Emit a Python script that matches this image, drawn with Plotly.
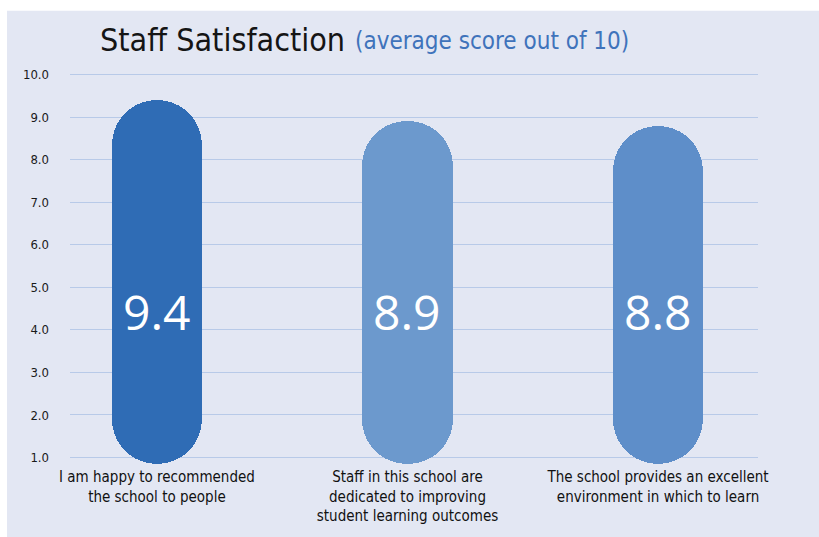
import plotly.graph_objects as go

categories = [
    "I am happy to recommended<br>the school to people",
    "Staff in this school are<br>dedicated to improving<br>student learning outcomes",
    "The school provides an excellent<br>environment in which to learn",
]
scores = [9.4, 8.9, 8.8]
tick_values = [1, 2, 3, 4, 5, 6, 7, 8, 9, 10]
tick_labels = ["1.0", "2.0", "3.0", "4.0", "5.0", "6.0", "7.0", "8.0", "9.0", "10.0"]
title_text = "Staff Satisfaction"
subtitle_text = "(average score out of 10)"

bar_colors = ["#2f6cb5", "#6c99cd", "#5e8ec9"]
bg = "#e3e7f3"
grid = "#b8cae8"
W, H = 819, 537
ML, MR, MT, MB = 70, 61, 66, 65
pw, ph = W - ML - MR, H - MT - MB

x_pos = list(range(len(categories)))
bar_w = 0.36
pill_bottom = 0.84  # rounded bottom end of each pill (style only)

fig = go.Figure()
fig.add_trace(go.Bar(
    x=x_pos, y=[s - pill_bottom for s in scores], base=pill_bottom,
    width=bar_w, marker=dict(color=bar_colors, line=dict(width=0), cornerradius="50%"),
    hoverinfo="skip", showlegend=False,
))

def fx(p):  # screen px -> paper x
    return (p - ML) / pw

def fy(p):  # screen px -> paper y
    return (H - MB - p) / ph

for xi, s in zip(x_pos, scores):
    fig.add_annotation(x=xi, y=4.44, xref="x", yref="y", text=f"{s:.1f}",
                       showarrow=False, font=dict(family="Open Sans, Liberation Sans, sans-serif",
                                                  size=48, color="white"))

fig.add_annotation(x=fx(98), y=fy(61), xref="paper", yref="paper", xanchor="left",
                   yanchor="bottom", text=title_text, showarrow=False,
                   font=dict(family="DejaVu Sans Condensed, sans-serif",
                             size=32, color="#151515"))
fig.add_annotation(x=fx(353), y=fy(57), xref="paper", yref="paper", xanchor="left",
                   yanchor="bottom", text=subtitle_text, showarrow=False,
                   font=dict(family="DejaVu Sans Condensed, sans-serif",
                             size=24, color="#3f73bb"))

# white strips at top and left edges of the picture
fig.add_shape(type="rect", xref="paper", yref="paper", layer="below",
              x0=fx(-5), x1=fx(830), y0=fy(10), y1=fy(-5),
              fillcolor="white", line=dict(width=0))
fig.add_shape(type="rect", xref="paper", yref="paper", layer="below",
              x0=fx(-5), x1=fx(7), y0=fy(545), y1=fy(-5),
              fillcolor="white", line=dict(width=0))

fig.update_layout(
    width=W, height=H, margin=dict(l=ML, r=MR, t=MT, b=MB),
    paper_bgcolor=bg, plot_bgcolor="rgba(0,0,0,0)",
    barmode="overlay", bargap=0,
    xaxis=dict(range=[-0.347, 2.399], tickvals=x_pos, ticktext=categories,
               showgrid=False, zeroline=False, showline=False, ticks="",
               tickfont=dict(family="DejaVu Sans Condensed, sans-serif", size=15, color="#111111"),
               ticklabelstandoff=0, fixedrange=True),
    yaxis=dict(range=[0.8, 10.2], tickvals=tick_values, ticktext=tick_labels,
               showgrid=True, gridcolor=grid, gridwidth=1, zeroline=False, showline=False,
               ticks="", ticklabelstandoff=20,
               tickfont=dict(family="DejaVu Sans Condensed, sans-serif", size=13, color="#1a1a1a"),
               fixedrange=True),
    font=dict(family="DejaVu Sans Condensed, sans-serif"),
)

fig.write_html(
    "out.html", config={"displayModeBar": False},
    post_script=("document.documentElement.style.overflow='hidden';"
                 "document.body.style.margin='0';document.body.style.overflow='hidden';"),
)
